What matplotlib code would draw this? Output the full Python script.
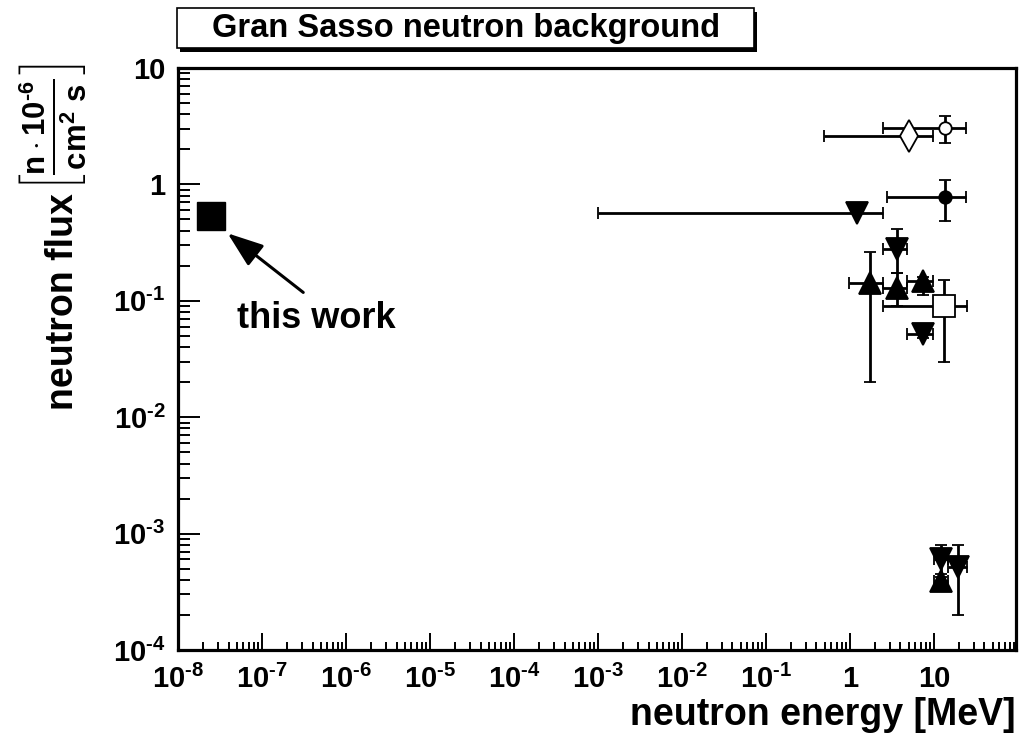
import numpy as np
import matplotlib.pyplot as plt
from matplotlib.patches import Rectangle
from matplotlib.ticker import FixedLocator, FixedFormatter, LogLocator, NullFormatter

plt.rcParams['font.family'] = ['Liberation Sans', 'DejaVu Sans']
plt.rcParams['font.weight'] = 'bold'
plt.rcParams['mathtext.fontset'] = 'custom'
plt.rcParams['mathtext.rm'] = 'Liberation Sans:bold'
plt.rcParams['mathtext.bf'] = 'Liberation Sans:bold'
plt.rcParams['mathtext.it'] = 'Liberation Sans:bold'
plt.rcParams['mathtext.sf'] = 'Liberation Sans:bold'
plt.rcParams['mathtext.default'] = 'bf'

# other measurements: energy [MeV] and flux [1e-6 n / cm2 s]
energy  = [5.0, 13.5, 13.5, 1.2, 3.6, 1.73, 3.6, 7.4, 13.3, 7.4, 12.1, 12.1, 19.3]
e_lo    = [0.49, 2.5, 2.8, 1e-3, 2.5, 0.97, 2.5, 4.8, 2.5, 4.8, 10.0, 10.0, 14.7]
e_hi    = [9.7, 24.0, 24.0, 2.5, 4.8, 2.5, 4.8, 9.7, 24.7, 9.7, 14.7, 14.7, 24.5]
flux    = [2.6, 3.05, 0.78, 0.565, 0.28, 0.142, 0.129, 0.148, 0.090, 0.052, 6.05e-4, 3.9e-4, 5.2e-4]
flux_lo = [2.6, 2.27, 0.485, 0.565, 0.173, 0.02, 0.09, 0.112, 0.030, 0.048, 4.5e-4, 3.6e-4, 2.0e-4]
flux_hi = [2.6, 3.87, 1.09, 0.565, 0.414, 0.263, 0.173, 0.16, 0.151, 0.056, 8.0e-4, 4.2e-4, 8.0e-4]
markers = ['d', 'o', 'o', 'v', 'v', '^', '^', '^', 's', 'v', 'v', '^', 'v']
filled  = [False, False, True, True, True, True, True, True, False, True, True, True, True]

# this work (thermal neutrons)
this_energy = [2.5e-8]
this_flux = [0.54]

xticks = [1e-8, 1e-7, 1e-6, 1e-5, 1e-4, 1e-3, 1e-2, 1e-1, 1, 10]
xticklabels = [r'$10^{\text{-8}}$', r'$10^{\text{-7}}$', r'$10^{\text{-6}}$',
               r'$10^{\text{-5}}$', r'$10^{\text{-4}}$', r'$10^{\text{-3}}$',
               r'$10^{\text{-2}}$', r'$10^{\text{-1}}$', '1', '10']
yticks = [1e-4, 1e-3, 1e-2, 1e-1, 1, 10]
yticklabels = [r'$10^{\text{-4}}$', r'$10^{\text{-3}}$', r'$10^{\text{-2}}$',
               r'$10^{\text{-1}}$', '1', '10']

W, H = 1019, 744
def fx(px):
    return px / W
def fy(py):
    return 1 - py / H

fig = plt.figure(figsize=(W / 100, H / 100), dpi=100)
ax = fig.add_axes([fx(178), fy(650), fx(1016) - fx(178), fy(68) - fy(650)])
ax.set_xscale('log')
ax.set_yscale('log')
ax.set_xlim(1e-8, 95)
ax.set_ylim(1e-4, 10)

msize = {'d': 16, 'o': 9, 'v': 16, '^': 16, 's': 16.5}
for i in range(len(energy)):
    xe = [[energy[i] - e_lo[i]], [e_hi[i] - energy[i]]]
    ye = [[flux[i] - flux_lo[i]], [flux_hi[i] - flux[i]]]
    ax.errorbar([energy[i]], [flux[i]], xerr=xe, yerr=ye,
                fmt=markers[i], ms=msize[markers[i]],
                mfc='black' if filled[i] else 'white', mec='black', mew=1.3,
                ecolor='black', elinewidth=2.0, capsize=4, capthick=2.0,
                zorder=3)

ax.plot(this_energy, this_flux, 's', ms=20, color='black', zorder=4)

# label + arrow for this work
ax.annotate('', xy=(3.9e-8, 0.38), xytext=(3.1e-7, 0.118),
            arrowprops=dict(arrowstyle='-|>,head_length=1.1,head_width=0.4',
                            lw=2.2, color='black', mutation_scale=20,
                            shrinkA=0, shrinkB=0))
ax.text(4.4e-7, 0.071, 'this work', fontsize=26, fontweight='bold',
        ha='center', va='center')

# axes styling (ROOT-like)
for sp in ax.spines.values():
    sp.set_linewidth(2.3)
ax.xaxis.set_major_locator(FixedLocator(xticks))
ax.xaxis.set_major_formatter(FixedFormatter(xticklabels))
ax.yaxis.set_major_locator(FixedLocator(yticks))
ax.yaxis.set_major_formatter(FixedFormatter(yticklabels))
ax.xaxis.set_minor_locator(LogLocator(base=10, subs=np.arange(2, 10), numticks=30))
ax.yaxis.set_minor_locator(LogLocator(base=10, subs=np.arange(2, 10), numticks=30))
ax.xaxis.set_minor_formatter(NullFormatter())
ax.yaxis.set_minor_formatter(NullFormatter())
ax.tick_params(axis='both', which='both', direction='in', top=False, right=False,
               width=1.4, labelsize=21)
ax.tick_params(axis='x', which='major', length=12, pad=11)
ax.tick_params(axis='x', which='minor', length=6)
ax.tick_params(axis='y', which='major', length=16, pad=9)
ax.tick_params(axis='y', which='minor', length=8.5)

# axis titles
fig.text(fx(1016), fy(715), 'neutron energy [MeV]', fontsize=27, fontweight='bold',
         ha='right', va='center')
fig.text(fx(63), fy(302), 'neutron flux', fontsize=27, fontweight='bold',
         rotation=90, ha='center', va='center')
fig.text(fx(53), fy(128), r'$\left[\frac{n\cdot10^{\text{-6}}}{cm^{2}\ s}\right]$',
         fontsize=32, rotation=90, ha='center', va='center')

# title box with shadow
fig.add_artist(Rectangle((fx(180), fy(52)), fx(757) - fx(180), fy(12) - fy(52),
                         transform=fig.transFigure, facecolor='black',
                         edgecolor='black', lw=0))
fig.add_artist(Rectangle((fx(177), fy(48)), fx(754) - fx(177), fy(8) - fy(48),
                         transform=fig.transFigure, facecolor='white',
                         edgecolor='black', lw=1.2))
fig.text(fx(466), fy(29), 'Gran Sasso neutron background', fontsize=23.5,
         fontweight='bold', ha='center', va='center')

fig.savefig('out.png', dpi=100)
